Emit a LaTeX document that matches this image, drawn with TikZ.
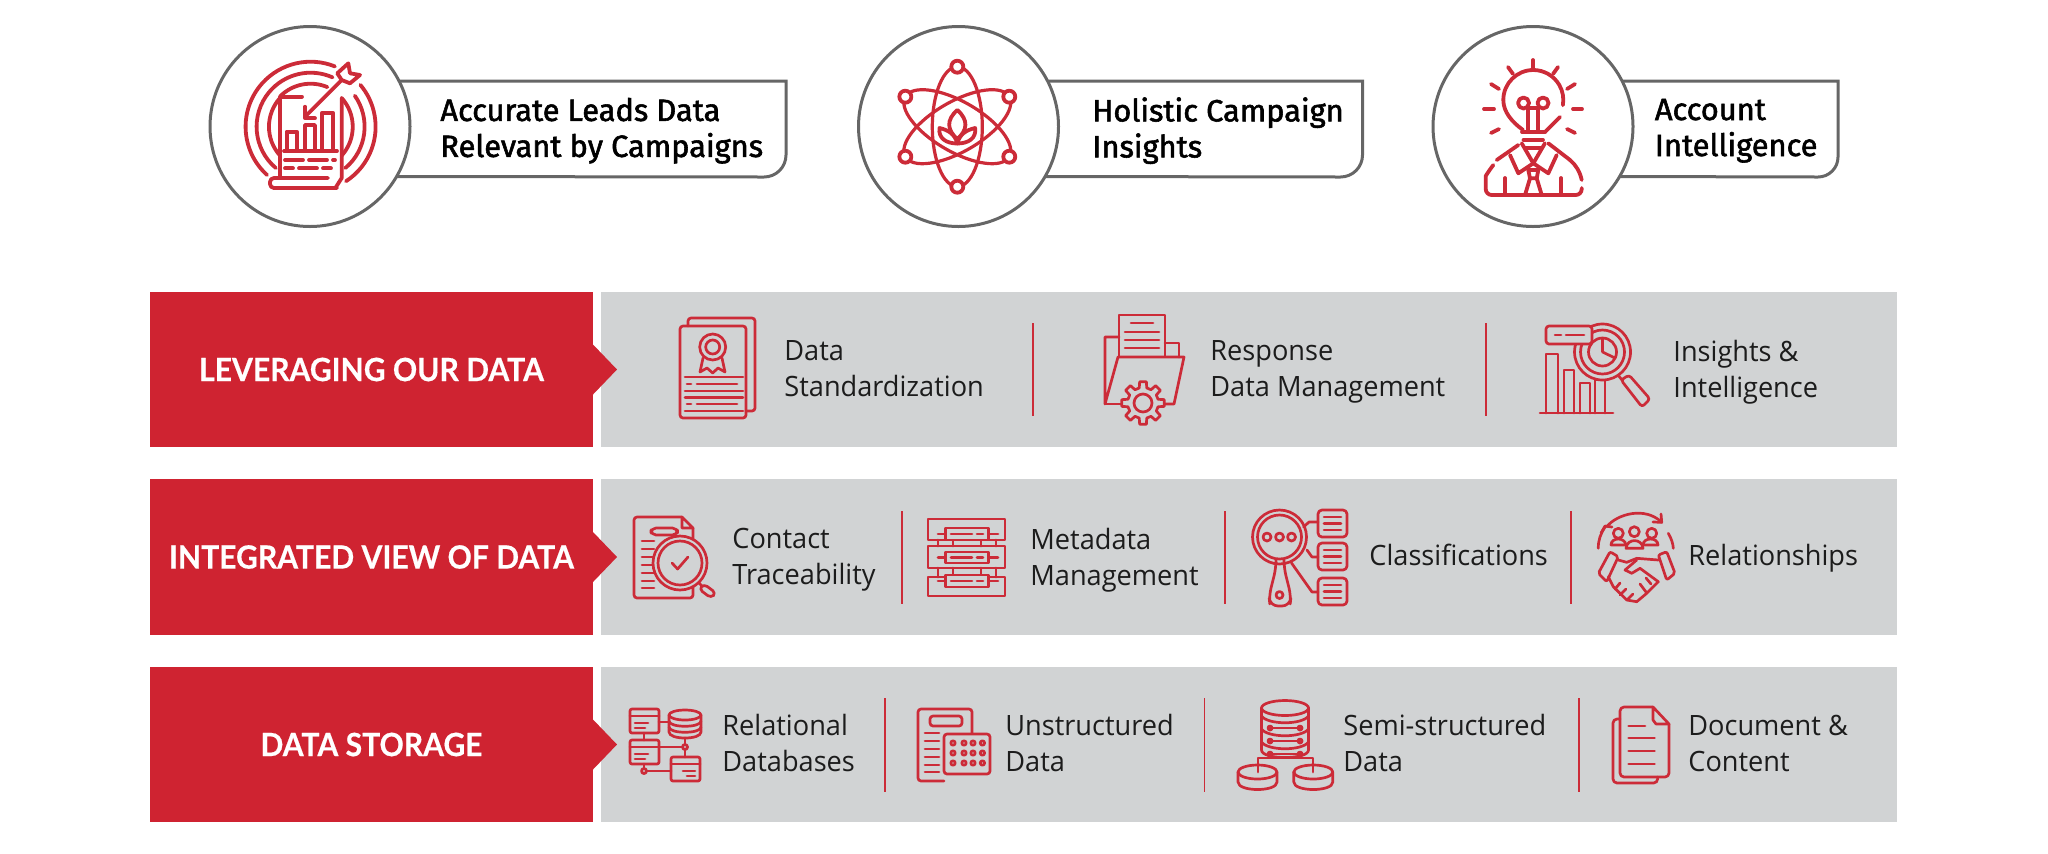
\documentclass[tikz,border=0pt]{standalone}
\usepackage{fontspec}
\usetikzlibrary{positioning,calc}
\setmainfont{Open Sans}
\newfontfamily\headfont[FakeBold=1.8]{Fira Sans}
\newfontfamily\bannerfont[FakeStretch=0.94, FakeBold=0.5, UprightFont=* Bold]{Lato}
\newfontfamily\itemfont[FakeStretch=0.97]{Open Sans}
\definecolor{brand}{HTML}{CF2331}
\definecolor{iconred}{HTML}{CC2B38}
\definecolor{panelgrey}{HTML}{D1D3D4}
\definecolor{tabgrey}{HTML}{666666}
\definecolor{inktext}{HTML}{1C1C1C}
\begin{document}
\begin{tikzpicture}[x=0.5pt, y=-0.5pt,
      banner/.style={fill=brand, text=white, minimum width=221.5pt, minimum height=77.75pt,
        inner sep=0pt, outer sep=0pt, font=\bannerfont\fontsize{16}{18}\selectfont},
      panel/.style={fill=panelgrey, minimum width=648pt, minimum height=77.75pt,
        inner sep=0pt, outer sep=0pt},
      badge/.style={circle, draw=tabgrey, line width=1.5pt, minimum size=100pt,
        inner sep=0pt, outer sep=0pt},
      tab/.style={draw=tabgrey, line width=1.5pt},
      head/.style={anchor=west, align=left, inner sep=0pt, text=black, text depth=3.6pt,
        font=\headfont\fontsize{15.4}{18}\selectfont},
      item/.style={anchor=west, align=left, inner sep=0pt, text=inktext, text depth=3.6pt,
        font=\itemfont\fontsize{14}{18}\selectfont},
      sep/.style={draw=iconred, line width=0.7pt},
      bigico/.style={draw=iconred, line width=1.9pt, line cap=round, line join=round},
      ico/.style={draw=iconred, line width=1.35pt, line cap=round, line join=round}]
      \useasboundingbox (0,0) rectangle (2048,853);
      \node[banner] (Lever) at (371.5,369.5) {LEVERAGING OUR DATA};
      \node[banner, below=16pt of Lever] (Integ) {INTEGRATED VIEW OF DATA};
      \node[banner, below=16pt of Integ] (Store) {DATA STORAGE};
      \node[panel, right=4pt of Lever] (LeverBg) {};
      \node[panel, right=4pt of Integ] (IntegBg) {};
      \node[panel, right=4pt of Store] (StoreBg) {};
      \foreach \rowname in {Lever,Integ,Store}
        \fill[brand] ([yshift=-12.5pt]\rowname.east) -- ([xshift=12pt]\rowname.east)
          -- ([yshift=12.5pt]\rowname.east) -- cycle;

      \foreach \x in {1033,1486} \draw[sep] (\x,323) -- (\x,416);
      \foreach \x in {902,1225,1571} \draw[sep] (\x,511) -- (\x,604);
      \foreach \x in {885,1204.5,1579} \draw[sep] (\x,698) -- (\x,792);

      \node[badge] (Leads) at (310,126.5) {};
      \node[badge] (Holistic) at (958.5,126.5) {};
      \node[badge] (Account) at (1533,126.5) {};
      \draw[tab] (Leads.27) -- (786,81) -- (786,155) arc[start angle=0, end angle=90, radius=22] -- (Leads.-30);
      \draw[tab] (Holistic.27) -- (1362.5,81) -- (1362.5,155) arc[start angle=0, end angle=90, radius=22] -- (Holistic.-30);
      \draw[tab] (Account.27) -- (1838,81) -- (1838,157) arc[start angle=0, end angle=90, radius=20] -- (Account.-30);
      \node[head] (LeadsTxt) at (440,131) {Accurate Leads Data\\Relevant by Campaigns};
      \node[head] (HolisticTxt) at (1092,131) {Holistic Campaign\\Insights};
      \node[head] (AccountTxt) at (1654.5,131) {Account\\Intelligence};

      \node[item] (DataStd) at (784,372) {Data\\Standardization};
      \node[item] (RespData) at (1210,372) {Response\\Data Management};
      \node[item] (InsInt) at (1673,372) {Insights \&\\Intelligence};
      \node[item] (ConTrace) at (732,560) {Contact\\Traceability};
      \node[item] (MetaMan) at (1030,560) {Metadata\\Management};
      \node[item] (Classif) at (1369,558) {Classifications};
      \node[item] (Relat) at (1688,558) {Relationships};
      \node[item] (RelDb) at (722,746) {Relational\\Databases};
      \node[item] (Unstr) at (1005,746) {Unstructured\\Data};
      \node[item] (Semi) at (1343,746) {Semi-structured\\Data};
      \node[item] (DocCon) at (1688,747) {Document \&\\Content};

      \draw[bigico] (310.6,126.7) ++(132:65) arc[start angle=132, end angle=292, radius=65];
      \draw[bigico] (310.6,126.7) ++(320:65) arc[start angle=320, end angle=417, radius=65];
      \draw[bigico] (310.6,126.7) ++(130:54) arc[start angle=130, end angle=294, radius=54];
      \draw[bigico] (310.6,126.7) ++(325:54) arc[start angle=325, end angle=410, radius=54];
      \draw[bigico] (310.6,126.7) ++(225:43) arc[start angle=225, end angle=293, radius=43];
      \draw[bigico] (341.7,98) arc[start angle=-42, end angle=42, radius=43];
      \draw[bigico] (280,98) arc[start angle=222, end angle=138, radius=43];
      \draw[bigico] (280,178) -- (280,96.7) -- (302,96.7);
      \draw[bigico] (341.7,98) -- (341.7,178) -- (336,187);
      \draw[bigico, rounded corners=2pt] (328,178) -- (270,178) -- (270,188) -- (337,188);
      \foreach \x/\w/\y in {286.7/296.7/131.7,305/315/125,321.7/333.3/113.3}
        \draw[bigico] (\x,150) -- (\x,\y) -- (\w,\y) -- (\w,150);
      \draw[bigico] (284,151) -- (337,151);
      \draw[bigico, dash pattern=on 9pt off 3pt] (285,160) -- (335,160);
      \draw[bigico, dash pattern=on 4pt off 3pt on 9pt off 3pt] (285,168.3) -- (335,168.3);
      \draw[bigico] (305,116.7) -- (341.7,80);
      \draw[bigico] (305,106.7) -- (305,118.3) -- (315,118.3);
      \draw[bigico, fill=white] (348.3,63.3) -- (350,73.3) -- (360,75) -- (350,83.3) -- (341.7,80) -- (337.3,73.3) -- cycle;

      \foreach \a in {0,60,120}
        \draw[bigico, line width=1.6pt, rotate around={\a:(957.3,126.7)}] (957.3,126.7) ellipse [x radius=25, y radius=60];
      \foreach \a in {30,90,150,210,270,330}
        \draw[bigico, fill=white] (957.3,126.7) ++(\a:60) circle[radius=6];
      \draw[bigico] (957.3,110) .. controls (946,120) and (947,130) .. (957.3,139) .. controls (967.6,130) and (968.6,120) .. cycle;
      \draw[bigico] (939.5,128) .. controls (938,138) and (946,143.5) .. (957.3,143.5) .. controls (955,134) and (948,130) .. cycle;
      \draw[bigico] (975.1,128) .. controls (976.6,138) and (968.6,143.5) .. (957.3,143.5) .. controls (959.6,134) and (966.6,130) .. cycle;

      \draw[bigico] (1523,130) .. controls (1512,122) and (1503.3,112) .. (1503.3,100)
        arc[start angle=180, end angle=370, radius=30];
      \draw[bigico] (1560,117) -- (1545,132);
      \draw[bigico] (1522,132) -- (1545,132) (1523.5,140) -- (1543,140) (1525,148) -- (1541.5,148);
      \draw[bigico] (1528,130) -- (1528,108) (1538,130) -- (1538,108) (1528,108) -- (1538,108);
      \draw[bigico] (1523.5,103) circle[radius=5.5] (1543,103) circle[radius=5.5];
      \foreach \x/\y/\u/\v in {1533/60/1533/68,1508/67/1513/74,1558/67/1553/74,1491/84/1499/89,1575/84/1567/89,
          1484/109/1494/109,1573/109/1582/109,1491/133/1499/129,1575/133/1567/129}
        \draw[bigico] (\x,\y) -- (\u,\v);
      \draw[bigico] (1510,155) -- (1518.3,173.3) -- (1533.3,163.3) -- (1521.7,143.3);
      \draw[bigico] (1556.7,155) -- (1548.3,173.3) -- (1533.3,163.3) -- (1544.9,143.3);
      \draw[bigico] (1528.3,170) -- (1538.3,170) -- (1536.7,178.3) -- (1530,178.3) -- cycle;
      \draw[bigico] (1530,178.3) -- (1525,195) (1536.7,178.3) -- (1541.7,195);
      \draw[bigico] (1496.7,160) -- (1518.3,145) (1570,160) -- (1548.3,143.3);
      \draw[bigico, rounded corners=3pt] (1493.3,165) .. controls (1488,172) and (1485.7,176) .. (1485.7,182) -- (1485.7,195) -- (1581.7,195) -- (1581.7,188);
      \draw[bigico] (1581.7,180) .. controls (1580,172) and (1576,165) .. (1570,160);
      \draw[bigico] (1505,178) -- (1505,193) (1561,178) -- (1561,193);

      \draw[ico, rounded corners=1.5pt] (688,326) -- (688,318) -- (755,318) -- (755,411) -- (746,411);
      \draw[ico, rounded corners=1.5pt] (680,326) rectangle (746,418);
      \draw[ico] (712.7,347) circle[radius=13] (712.7,347) circle[radius=7];
      \draw[ico] (703,358) -- (700,372) -- (707,368) -- (712.7,373) -- (718,368) -- (725,372) -- (722,358);
      \foreach \y in {377,391,397.5,411} \draw[ico] (685,\y) -- (743,\y);
      \foreach \y in {384,404} \draw[ico, dash pattern=on 2pt off 3pt on 20pt off 3pt] (687,\y) -- (741,\y);

      \draw[ico] (1119,356) -- (1119,315) -- (1165,315) -- (1165,356);
      \draw[ico] (1131,323) -- (1153,323);
      \foreach \y in {332,340,348} \draw[ico] (1125,\y) -- (1159,\y);
      \draw[ico] (1165,343) -- (1179,343) -- (1179,357);
      \draw[ico] (1119,337) -- (1105,337) -- (1105,404) -- (1118,357) -- (1184,357) -- (1174,404) -- (1165,404);
      \draw[ico] (1105,404) -- (1122,404);
      \draw[ico, fill=panelgrey, shift={(1143,403)}] (-9:21.5)
        \foreach \a in {0,45,...,315} { -- (\a+9:21.5) -- (\a+14:15.5) -- (\a+31:15.5) -- (\a+36:21.5) } -- cycle;
      \draw[ico] (1143,403) circle[radius=9];

      \draw[ico] (1540,413) -- (1613,413);
      \foreach \x/\w/\y in {1546/1558/354,1564/1574/370,1580/1590/383,1595/1605/380}
        \draw[ico] (\x,413) -- (\x,\y) -- (\w,\y) -- (\w,413);
      \draw[ico, fill=panelgrey] (1602.5,352) circle[radius=28];
      \draw[ico] (1602.5,352) circle[radius=22];
      \draw[ico] (1602.5,352) circle[radius=14] (1602.5,352) -- (1602.5,338) (1602.5,352) -- (1615,358);
      \draw[ico, fill=panelgrey, rounded corners=1.5pt] (1621,380) -- (1629,375) -- (1650,399) -- (1642,407) -- cycle;
      \draw[ico] (1618,375) -- (1622,380);
      \draw[ico, fill=panelgrey, rounded corners=1.5pt] (1546,326) rectangle (1592,344);
      \draw[ico] (1555,335) -- (1561,335) (1566,335) -- (1584,335);

      \draw[ico, rounded corners=1.5pt] (682,517) -- (634,517) -- (634,598) -- (693,598) -- (693,528);
      \draw[ico] (682,517) -- (682,528) -- (693,528) -- cycle;
      \draw[ico, rounded corners=2.5pt] (651,528) rectangle (677.5,535);
      \foreach \y in {541,549,557,565,573,581,588} \draw[ico] (642,\y) -- (654,\y);
      \draw[ico, fill=panelgrey] (680,563) circle[radius=27];
      \draw[ico] (680,563) circle[radius=22];
      \draw[ico] (672,563) -- (677.6,569) -- (688,557);
      \draw[ico] (699,583) -- (703,587);
      \draw[ico, fill=panelgrey, rounded corners=2pt] (699,589) -- (704,584) -- (716,593) -- (711,598) -- cycle;

      \foreach \y/\v in {519/540,546/568,577/596} \draw[ico] (928,\y) rectangle (1005,\v);
      \foreach \x in {938,953,981,996} \draw[ico] (\x,540) -- (\x,546) (\x,568) -- (\x,577);
      \foreach \y/\v in {528/540,552/563,575/587} {
        \draw[ico, fill=panelgrey] (945.5,\y) rectangle (988.5,\v);
        \draw[ico] (938,\y/2+\v/2) -- (945.5,\y/2+\v/2) (988.5,\y/2+\v/2) -- (998,\y/2+\v/2);
        \draw[ico] (951,\y/2+\v/2) -- (972,\y/2+\v/2) (977,\y/2+\v/2) -- (983,\y/2+\v/2);
      }

      \draw[ico] (1279.5,537) circle[radius=27] (1279.5,537) circle[radius=22];
      \foreach \x in {1267,1279.5,1291.5} \draw[ico] (\x,537) circle[radius=4];
      \draw[ico, rounded corners=4pt] (1276,564) -- (1276,568) -- (1269,596) -- (1270,606) -- (1290,606) -- (1291,596) -- (1284,568) -- (1284,564);
      \draw[ico] (1279.5,595) circle[radius=3.5];
      \foreach \y/\v in {510/537,543/570,578/605} {
        \draw[ico, rounded corners=2pt] (1318,\y) rectangle (1347,\v);
        \draw[ico] (1324,\y+7) -- (1341,\y+7) (1324,\y+13.5) -- (1341,\y+13.5) (1324,\y+20) -- (1341,\y+20);
      }
      \draw[ico] (1303.5,527) -- (1309,522) -- (1318,522);
      \draw[ico] (1307,550) -- (1312,557) -- (1318,557);
      \draw[ico] (1291.5,563) -- (1312,592) -- (1318,592);

      \draw[ico] (1598.3,548.3) .. controls (1598,540) and (1601,533) .. (1605,527);
      \draw[ico] (1601,533) -- (1605,526) -- (1612,527);
      \draw[ico] (1606.7,526.7) .. controls (1617,514) and (1645,506) .. (1661.7,522.3);
      \draw[ico] (1653,522) -- (1661.7,522.3) -- (1661,514);
      \draw[ico] (1668.3,533.3) .. controls (1671,538) and (1673,543) .. (1673.3,548.3);
      \foreach \x/\y in {1618.3/533.3,1634.3/531.7,1651.7/533.3} \draw[ico] (\x,\y) circle[radius=5];
      \draw[ico] (1611,545) .. controls (1611,537) and (1625,537) .. (1626,545) -- cycle;
      \draw[ico] (1643,545) .. controls (1643,537) and (1658,537) .. (1658,545) -- cycle;
      \draw[ico, fill=panelgrey] (1626,548.3) .. controls (1627,538) and (1642,538) .. (1643,548.3) -- cycle;
      \draw[ico, rounded corners=1pt] (1610,551.7) -- (1618.3,556.7) -- (1606.7,581.7) -- (1598.3,573.3) -- cycle;
      \draw[ico, rounded corners=1pt] (1658.3,555) -- (1666.7,551.7) -- (1675,573.3) -- (1666.7,580) -- cycle;
      \draw[ico] (1618.3,560) -- (1626.7,562.3) -- (1636.7,558.3) -- (1658.3,560);
      \draw[ico] (1636.7,560) -- (1625,570) -- (1631.7,573.3) -- (1640,568.3) -- (1658.3,581.7);
      \draw[ico] (1608.3,576.7) -- (1613.3,586.7) -- (1626.7,600) -- (1636.7,601.7) -- (1646.7,593.3) -- (1658.3,581.7);
      \draw[ico] (1620,583) -- (1615,589) (1626,589) -- (1620,595) (1633,594) -- (1627,600);
      \draw[ico] (1646,578) -- (1651,584) (1640,584) -- (1646,592);

      \foreach \y/\v in {709/733,740/764} {
        \draw[ico, rounded corners=1pt] (630,\y) rectangle (659,\v);
        \draw[ico] (630,\y+7) -- (659,\y+7) (635,\y+14) -- (648,\y+14) (635,\y+19) -- (645,\y+19);
      }
      \draw[ico, rounded corners=1pt] (671,757) rectangle (700,781);
      \draw[ico] (671,764) -- (700,764) (683,771) -- (695,771) (687,776) -- (695,776);
      \draw[ico] (685,715) ellipse [x radius=16, y radius=5];
      \draw[ico] (669,715) -- (669,732) .. controls (669,740) and (701,740) .. (701,732) -- (701,715);
      \draw[ico] (669,721) .. controls (669,728) and (701,728) .. (701,721);
      \draw[ico] (669,727) .. controls (669,734) and (701,734) .. (701,727);
      \draw[ico] (659,722) -- (669,722) (644,733) -- (644,740) (659,747) -- (685,747);
      \draw[ico] (685,738) -- (685,757) (644,764) -- (644,771) -- (671,771);
      \draw[ico, fill=panelgrey] (685,747) circle[radius=2.5] (644,771) circle[radius=2.5];

      \draw[ico, rounded corners=1.5pt] (944,781) -- (918,781) -- (918,709) -- (972,709) -- (972,734);
      \draw[ico, rounded corners=1.5pt] (930,716) rectangle (962,726);
      \foreach \y in {733,741,749,757,765,772} \draw[ico] (925,\y) -- (939,\y);
      \draw[ico, fill=panelgrey, rounded corners=1.5pt] (944,734) rectangle (990,774);
      \foreach \y in {743,753,763} \foreach \x in {953,964,973,982.4} \draw[ico] (\x,\y) circle[radius=2.2];

      \draw[ico] (1285,708) ellipse [x radius=23.5, y radius=7.5];
      \draw[ico] (1261.5,708) -- (1261.5,750) .. controls (1261.5,760) and (1308.5,760) .. (1308.5,750) -- (1308.5,708);
      \foreach \y in {722,735,748} {
        \draw[ico] (1261.5,\y-6) .. controls (1268,\y+3) and (1302,\y+3) .. (1308.5,\y-6);
        \draw[ico] (1270,\y+6) -- (1300,\y+6);
        \draw[ico] (1270,\y+6) circle[radius=2] (1300,\y+6) circle[radius=2];
      }
      \draw[ico] (1258,772) -- (1258,758) -- (1313,758) -- (1313,772);
      \foreach \x in {1257.5,1313.3} {
        \draw[ico] (\x,772) ellipse [x radius=19.5, y radius=7];
        \draw[ico] (\x-19.5,772) -- (\x-19.5,782) .. controls (\x-19.5,792) and (\x+19.5,792) .. (\x+19.5,782) -- (\x+19.5,772);
      }

      \draw[ico, rounded corners=2pt] (1620,719) -- (1613,719) -- (1613,783) -- (1657.6,783) -- (1657.6,777);
      \draw[ico, rounded corners=2pt] (1653,707) -- (1620,707) -- (1620,777) -- (1669,777) -- (1669,724);
      \draw[ico] (1653,707) -- (1669,724) -- (1656,724) -- (1653,720) -- cycle;
      \draw[ico] (1628.6,726) -- (1645,726);
      \foreach \y in {738,751,764} \draw[ico] (1628.6,\y) -- (1654.5,\y);
    \end{tikzpicture}
\end{document}
